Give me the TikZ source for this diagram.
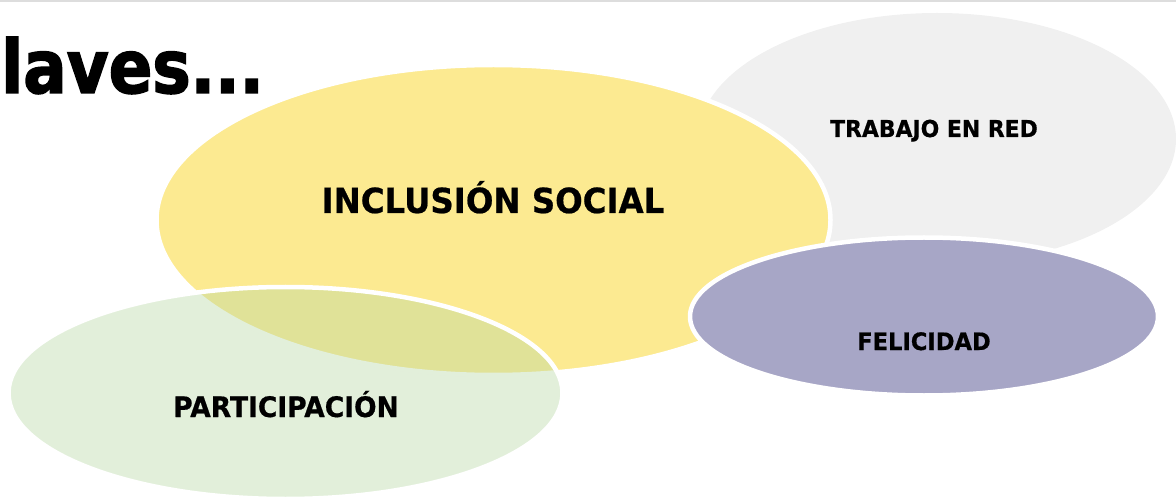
\documentclass[tikz,border=0pt]{standalone}
\usepackage{fontspec}
\setmainfont{DejaVu Sans}[FakeStretch=0.94,BoldFeatures={FakeBold=0.6}]
\newfontfamily\titulofont{DejaVu Sans}[FakeStretch=0.87,BoldFeatures={FakeBold=2}]
\definecolor{amarillo}{RGB}{252,234,145}
\definecolor{gris}{RGB}{240,240,240}
\definecolor{lila}{RGB}{167,166,198}
\definecolor{verde}{RGB}{183,215,163}
\definecolor{raya}{RGB}{221,221,221}

\begin{document}
\begin{tikzpicture}[x=1pt,y=-1pt,
  burbuja/.style={draw=white,line width=4.5pt},
  etiqueta/.style={inner sep=0pt,anchor=base,font=\bfseries\fontsize{#1}{#1}\selectfont}]
\useasboundingbox (0,0) rectangle (1176,497);
\clip (0,0) rectangle (1176,497);
\fill[raya] (0,0) rectangle (1176,2.5);

% burbujas
\fill[gris] (937,139) ellipse [x radius=239, y radius=126];
\filldraw[fill=amarillo, burbuja] (493.5,220) ellipse [x radius=337, y radius=155];
\filldraw[fill=verde, fill opacity=0.4, burbuja] (285.5,393) ellipse [x radius=277, y radius=106];
\filldraw[fill=lila, burbuja] (924,316.5) ellipse [x radius=234, y radius=79];

\node[inner sep=0pt,anchor=base west,font=\titulofont\bfseries\fontsize{74}{80}\selectfont] (titulo) at (1,93) {laves...};

\node[etiqueta=34.5] (inclusion) at (493,213) {INCLUSIÓN SOCIAL};
\node[etiqueta=23.3] (red) at (934,137) {TRABAJO EN RED};
\node[etiqueta=24] (felicidad) at (924,350) {FELICIDAD};
\node[etiqueta=28.2] (participacion) at (286,417) {PARTICIPACIÓN};

\end{tikzpicture}
\end{document}
